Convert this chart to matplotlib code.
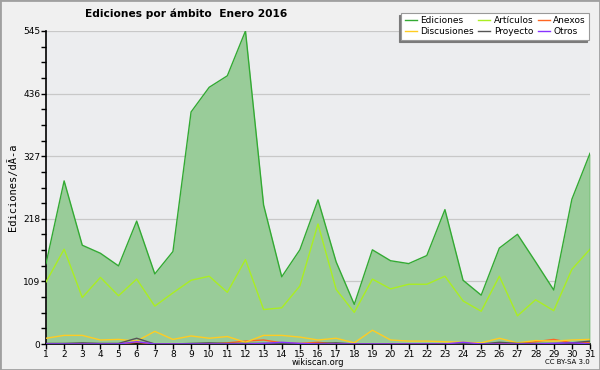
#!/usr/bin/env python3
"""Ediciones por ámbito, Enero 2016 (wikiscan style chart)."""

import matplotlib
matplotlib.use("Agg")
import numpy as np
import matplotlib.pyplot as plt
from matplotlib.patches import Rectangle
from matplotlib.ticker import MultipleLocator

days = list(range(1, 32))

ediciones = [140, 284, 172, 158, 136, 214, 122, 161, 404, 447, 467, 545, 242, 117, 164, 251,
             143, 69, 164, 145, 140, 154, 234, 111, 85, 167, 191, 143, 94, 252, 332]
articulos = [108, 165, 81, 116, 84, 113, 66, 89, 111, 118, 90, 147, 60, 63, 101, 209,
             95, 55, 113, 96, 104, 104, 118, 75, 57, 118, 49, 77, 58, 130, 165]
discusiones = [10, 15, 15, 7, 8, 5, 22, 8, 14, 10, 13, 3, 15, 15, 12, 7,
               10, 2, 24, 7, 5, 5, 4, 3, 2, 10, 2, 6, 5, 7, 8]
anexos = [0, 0, 0, 0, 0, 3, 0, 0, 0, 0, 2, 5, 7, 2, 1, 3,
          0, 0, 0, 0, 0, 0, 0, 0, 0, 0, 1, 4, 8, 2, 3]
proyecto = [1, 1, 2, 1, 1, 10, 0, 0, 1, 2, 1, 1, 1, 1, 0, 1,
            2, 0, 0, 0, 0, 0, 0, 1, 0, 3, 1, 1, 1, 2, 5]
otros = [0, 0, 0, 0, 0, 4, 0, 0, 0, 0, 0, 0, 1, 3, 1, 0,
         0, 0, 0, 0, 0, 0, 0, 3, 0, 0, 0, 0, 1, 2, 0]

yticks = [0, 109, 218, 327, 436, 545]

C_EDI = "#33aa33"
C_FILL = "#99cc99"
C_ART = "#aaee22"
C_ANE = "#ff6622"
C_DIS = "#ffcc22"
C_PRO = "#555555"
C_OTR = "#8833ff"

fig = plt.figure(figsize=(6, 3.7), dpi=100, facecolor="#f0f0f0")
ax = fig.add_axes([46 / 600, 26 / 370, 544 / 600, 313 / 370], facecolor="#ecedef")

for v in yticks[1:]:
    ax.axhline(v, color="#c8c8c8", lw=0.9, zorder=0)

ax.fill_between(days, ediciones, color=C_FILL, lw=0, zorder=1)
ax.plot(days, ediciones, color=C_EDI, lw=1.0, zorder=3, label="Ediciones")
ax.plot(days, articulos, color=C_ART, lw=1.0, zorder=3, label="Artículos")
ax.plot(days, anexos, color=C_ANE, lw=1.0, zorder=3, label="Anexos")
ax.plot(days, discusiones, color=C_DIS, lw=1.0, zorder=3, label="Discusiones")
ax.plot(days, proyecto, color=C_PRO, lw=1.0, zorder=3, label="Proyecto")
ax.plot(days, otros, color=C_OTR, lw=1.0, zorder=3, label="Otros")
ax.plot([days[-1], days[-1]], [0, ediciones[-1]], color=C_EDI, lw=1.0, zorder=3)

ax.set_xlim(1, 31)
ax.set_ylim(0, 545)
ax.set_xticks(days)
ax.set_yticks(yticks)
ax.yaxis.set_minor_locator(MultipleLocator(109 / 4))
ax.tick_params(axis="both", labelsize=6.5, length=3.5, width=1, pad=0.5, colors="black")
ax.tick_params(axis="y", which="minor", length=3.5, width=1)
for s in ("top", "right"):
    ax.spines[s].set_visible(False)
for s in ("left", "bottom"):
    ax.spines[s].set_linewidth(1.2)

ax.set_ylabel("Ediciones/dÃ-a", family="DejaVu Sans Mono", fontsize=7.5, labelpad=4)

h, l = ax.get_legend_handles_labels()
order = [0, 3, 1, 4, 2, 5]
leg = fig.legend([h[i] for i in order], [l[i] for i in order], ncol=3,
                 loc="upper right", bbox_to_anchor=(594 / 600, 1 - 8 / 370),
                 fontsize=6.5, frameon=True, fancybox=False, framealpha=1,
                 edgecolor="#999999", handlelength=1.3, handletextpad=0.4,
                 columnspacing=0.5, labelspacing=0.2, borderpad=0.4,
                 shadow={"ox": -2, "oy": -2, "color": "#7a7a7a", "alpha": 1})
leg.get_frame().set_linewidth(0.8)

fig.text(85 / 600, 1 - 14 / 370, "Ediciones por ámbito  Enero 2016", fontsize=7.7,
         fontweight="bold", ha="left", va="center")
fig.text(318 / 600, 1 - 362.5 / 370, "wikiscan.org", fontsize=6, ha="center", va="center")
fig.text(590 / 600, 1 - 362 / 370, "CC BY-SA 3.0", fontsize=5, ha="right", va="center")

fig.patches.append(Rectangle((0, 0), 1, 1, transform=fig.transFigure, fill=False,
                             edgecolor="#a0a0a0", lw=2))

fig.savefig("out.png", dpi=100, facecolor=fig.get_facecolor())
